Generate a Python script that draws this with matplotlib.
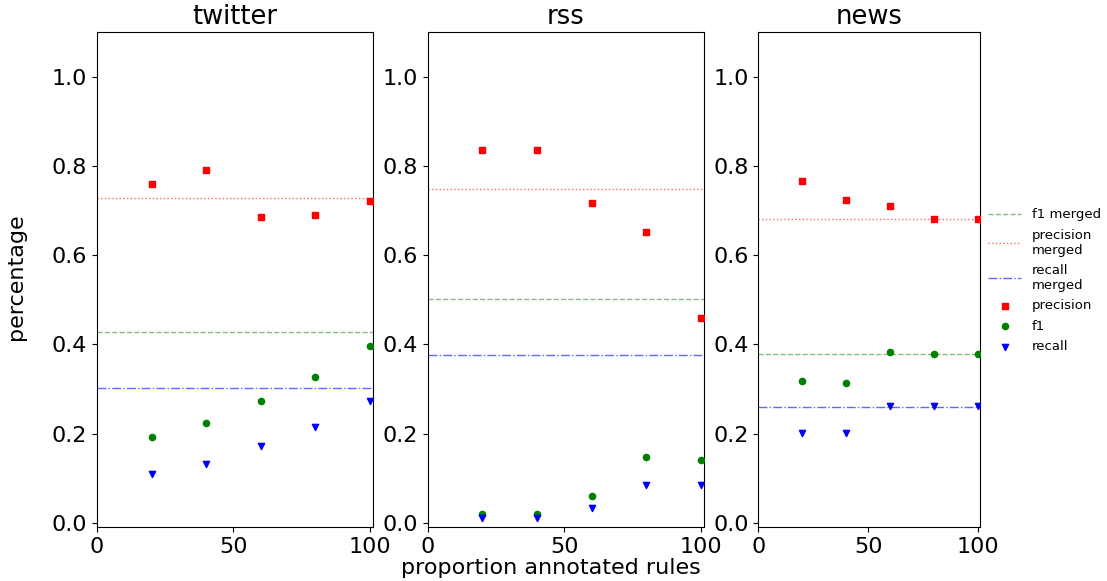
import matplotlib
matplotlib.use("Agg")
import matplotlib.pyplot as plt

# proportion of annotated rules used
proportions = [20, 40, 60, 80, 100]
sources = ["twitter", "rss", "news"]

# values, per source
precision = {
    "twitter": [0.760, 0.791, 0.686, 0.691, 0.722],
    "rss": [0.835, 0.835, 0.716, 0.652, 0.460],
    "news": [0.766, 0.724, 0.710, 0.682, 0.682],
}
f1 = {
    "twitter": [0.192, 0.225, 0.274, 0.328, 0.396],
    "rss": [0.021, 0.021, 0.061, 0.148, 0.142],
    "news": [0.318, 0.314, 0.383, 0.378, 0.378],
}
recall = {
    "twitter": [0.110, 0.132, 0.172, 0.216, 0.273],
    "rss": [0.012, 0.012, 0.033, 0.085, 0.085],
    "news": [0.201, 0.201, 0.262, 0.262, 0.262],
}

# scores of the merged model (horizontal reference lines)
f1_merged = {"twitter": 0.428, "rss": 0.502, "news": 0.378}
precision_merged = {"twitter": 0.728, "rss": 0.748, "news": 0.682}
recall_merged = {"twitter": 0.302, "rss": 0.377, "news": 0.261}

fig = plt.figure(figsize=(11.07, 5.81), dpi=100)

boxes = [
    [0.0876, 0.0921, 0.2490, 0.8528],
    [0.3864, 0.0921, 0.2493, 0.8528],
    [0.6850, 0.0921, 0.2003, 0.8528],
]

for src, box in zip(sources, boxes):
    ax = fig.add_axes(box)
    ax.axhline(f1_merged[src], color="g", linestyle="--", alpha=0.5, lw=1, label="f1 merged")
    ax.axhline(precision_merged[src], color="r", linestyle=":", alpha=0.6, lw=1, label="precision\nmerged")
    ax.axhline(recall_merged[src], color="b", linestyle="-.", alpha=0.6, lw=1, label="recall\nmerged")
    ax.scatter(proportions, precision[src], marker="s", color="r", s=20, label="precision", zorder=3)
    ax.scatter(proportions, f1[src], marker="o", color="g", s=20, label="f1", zorder=3)
    ax.scatter(proportions, recall[src], marker="v", color="b", s=20, label="recall", zorder=3)
    ax.set_xlim(0, 101)
    ax.set_ylim(-0.01, 1.1)
    ax.set_xticks([0, 50, 100])
    ax.set_yticks([0.0, 0.2, 0.4, 0.6, 0.8, 1.0])
    ax.tick_params(labelsize=16)
    ax.set_title(src, fontsize=18.5)

handles, labels = ax.get_legend_handles_labels()
fig.legend(handles, labels, loc="center left", bbox_to_anchor=(0.882, 0.517),
           frameon=False, fontsize=9.5, scatterpoints=1, handlelength=2.5,
           labelspacing=0.56)

fig.text(0.498, 0.005, "proportion annotated rules", ha="center", va="bottom", fontsize=16)
fig.text(0.005, 0.524, "percentage", ha="left", va="center", rotation=90, fontsize=16)

fig.savefig("out.png", dpi=100)
